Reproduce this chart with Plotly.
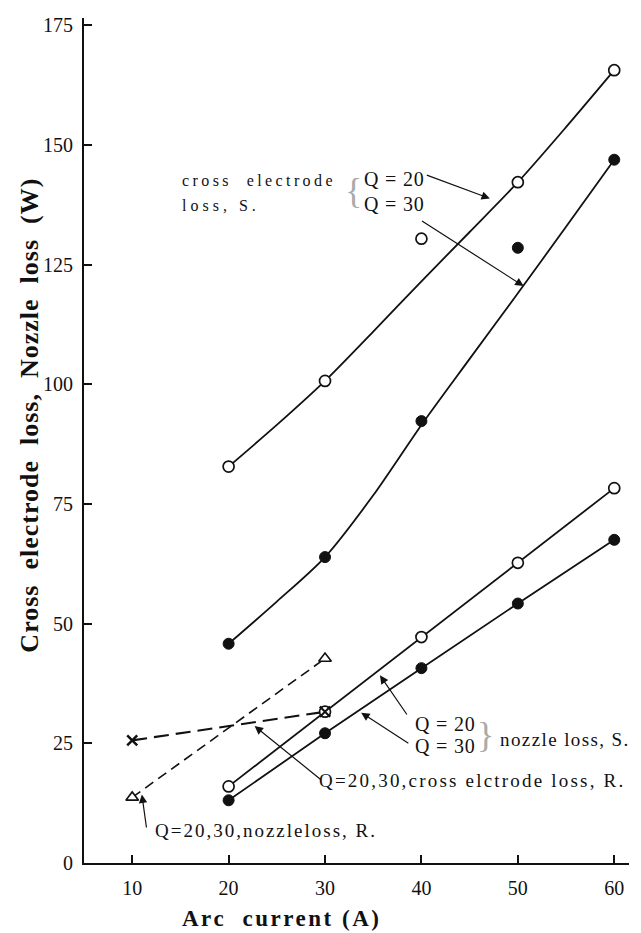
import plotly.graph_objects as go

# ---- data ----
arc_current = [20, 30, 40, 50, 60]
cross_S_q20 = [82.8, 100.7, 130.4, 142.2, 165.6]
cross_S_q30 = [45.8, 63.9, 92.3, 128.5, 146.9]
nozzle_S_q20 = [16.0, 31.6, 47.2, 62.7, 78.3]
nozzle_S_q30 = [13.1, 27.1, 40.7, 54.2, 67.5]
# hand-drawn fitted curves
fit_current = [20, 25, 30, 35, 40, 45, 50, 55, 60]
cross_S_q20_fit = [82.8, 91.5, 100.7, 111.0, 121.5, 131.8, 142.2, 153.7, 165.6]
cross_S_q30_fit = [45.8, 54.6, 63.9, 76.8, 91.5, 105.3, 119.0, 132.9, 146.9]
r_current = [10, 30]
cross_R = [25.6, 31.6]
nozzle_R = [13.7, 42.7]
x_ticks = [10, 20, 30, 40, 50, 60]
y_ticks = [0, 25, 50, 75, 100, 125, 150, 175]

FONT = "Liberation Serif, Times New Roman, serif"
BLACK = "#111111"

fig = go.Figure()

# fitted curves (solid)
fig.add_trace(go.Scatter(x=fit_current, y=cross_S_q20_fit, mode="lines",
                         line=dict(color=BLACK, width=1.8, shape="spline", smoothing=0.8),
                         hoverinfo="skip"))
fig.add_trace(go.Scatter(x=fit_current, y=cross_S_q30_fit, mode="lines",
                         line=dict(color=BLACK, width=1.8, shape="spline", smoothing=0.8),
                         hoverinfo="skip"))
fig.add_trace(go.Scatter(x=arc_current, y=nozzle_S_q20, mode="lines",
                         line=dict(color=BLACK, width=1.8), hoverinfo="skip"))
fig.add_trace(go.Scatter(x=arc_current, y=nozzle_S_q30, mode="lines",
                         line=dict(color=BLACK, width=1.8), hoverinfo="skip"))
# dashed R lines
fig.add_trace(go.Scatter(x=r_current, y=cross_R, mode="lines+markers",
                         line=dict(color=BLACK, width=2.2, dash="15px,7px"),
                         marker=dict(symbol="x-thin", size=10, line=dict(color=BLACK, width=2.5))))
fig.add_trace(go.Scatter(x=r_current, y=nozzle_R, mode="lines+markers",
                         line=dict(color=BLACK, width=1.6, dash="10px,6px"),
                         marker=dict(symbol="triangle-up", size=11, color="white",
                                     line=dict(color=BLACK, width=1.6))))
# markers
fig.add_trace(go.Scatter(x=arc_current, y=cross_S_q20, mode="markers",
                         marker=dict(symbol="circle", size=11, color="white",
                                     line=dict(color=BLACK, width=1.7))))
fig.add_trace(go.Scatter(x=arc_current, y=cross_S_q30, mode="markers",
                         marker=dict(symbol="circle", size=11, color=BLACK,
                                     line=dict(color=BLACK, width=1))))
fig.add_trace(go.Scatter(x=arc_current, y=nozzle_S_q20, mode="markers",
                         marker=dict(symbol="circle", size=11, color="white",
                                     line=dict(color=BLACK, width=1.7))))
fig.add_trace(go.Scatter(x=arc_current, y=nozzle_S_q30, mode="markers",
                         marker=dict(symbol="circle", size=11, color=BLACK,
                                     line=dict(color=BLACK, width=1))))
# redraw the x marker on top at 30 A
fig.add_trace(go.Scatter(x=r_current[1:], y=cross_R[1:], mode="markers",
                         marker=dict(symbol="x-thin", size=10, line=dict(color=BLACK, width=2))))

def ls(text, sp):
    return f'<span style="letter-spacing:{sp}px">{text}</span>'

ann = []
def label(x, y, text, size, sp, xanchor="left", color=BLACK):
    ann.append(dict(x=x, y=y, xref="x", yref="y", text=ls(text, sp), showarrow=False,
                    xanchor=xanchor, yanchor="middle",
                    font=dict(family=FONT, size=size, color=color)))

def arrow(x, y, ax, ay):
    ann.append(dict(x=x, y=y, ax=ax, ay=ay, xref="x", yref="y", axref="x", ayref="y",
                    text="", showarrow=True, arrowhead=2, arrowsize=1.4, arrowwidth=1.2,
                    arrowcolor=BLACK, standoff=0, startstandoff=0))

label(14.96, 142.6, "cross  electrode", 16, 3.4)
label(14.96, 137.4, "loss, S.", 16, 4.0)
label(33.8, 142.9, "Q = 20", 20, 0.8)
label(33.8, 137.7, "Q = 30", 20, 0.8)
label(34.0, 140.3, "{", 36, 0, xanchor="right", color="#aaaaaa")
label(39.13, 29.0, "Q = 20", 20, 0.8)
label(39.13, 24.4, "Q = 30", 20, 0.8)
label(45.6, 26.7, "}", 36, 0, color="#aaaaaa")
label(47.95, 25.7, "nozzle loss, S.", 19, 1.4)
label(29.2, 17.15, "Q=20,30,cross elctrode loss, R.", 19, 2.2)
label(12.16, 6.76, "Q=20,30,nozzleloss, R.", 19, 2.0)

arrow(47.1, 138.8, 40.4, 143.8)
arrow(50.6, 120.5, 39.9, 134.3)
arrow(35.7, 39.2, 38.6, 30.7)
arrow(33.75, 31.4, 38.8, 24.8)
arrow(22.7, 28.6, 29.7, 17.2)
arrow(11.0, 14.3, 11.5, 7.1)

# axis titles
ann.append(dict(x=-0.10, y=0.53, xref="paper", yref="paper", showarrow=False,
                text="<b>" + ls("Cross  electrode  loss,  Nozzle  loss  (W)", 1.0) + "</b>",
                textangle=-90, xanchor="center", yanchor="middle",
                font=dict(family=FONT, size=26, color=BLACK)))
ann.append(dict(x=0.363, y=-0.066, xref="paper", yref="paper", showarrow=False,
                text="<b>" + ls("Arc  current (A)", 2.5) + "</b>",
                xanchor="center", yanchor="middle",
                font=dict(family=FONT, size=23, color=BLACK)))

# the page places the plot 8px from the top-left corner, so the figure is
# 8px smaller and the margins are reduced accordingly
fig.update_layout(
    width=633, height=925,
    margin=dict(l=76, r=12, t=6, b=70),
    paper_bgcolor="white", plot_bgcolor="white",
    showlegend=False,
    annotations=ann,
    font=dict(family=FONT, color=BLACK),
)
fig.update_xaxes(range=[5, 61.53], tickvals=x_ticks, ticks="inside", ticklen=8, tickwidth=1.5,
                 tickcolor=BLACK, showline=True, linecolor=BLACK, linewidth=2,
                 showgrid=False, zeroline=False, ticklabelstandoff=6,
                 tickfont=dict(family=FONT, size=20, color=BLACK))
fig.update_yaxes(range=[0, 176.5], tickvals=y_ticks, ticks="inside", ticklen=8, tickwidth=1.5,
                 tickcolor=BLACK, showline=True, linecolor=BLACK, linewidth=2,
                 showgrid=False, zeroline=False, ticklabelstandoff=5,
                 tickfont=dict(family=FONT, size=20, color=BLACK))

fig.write_html("out.html")
